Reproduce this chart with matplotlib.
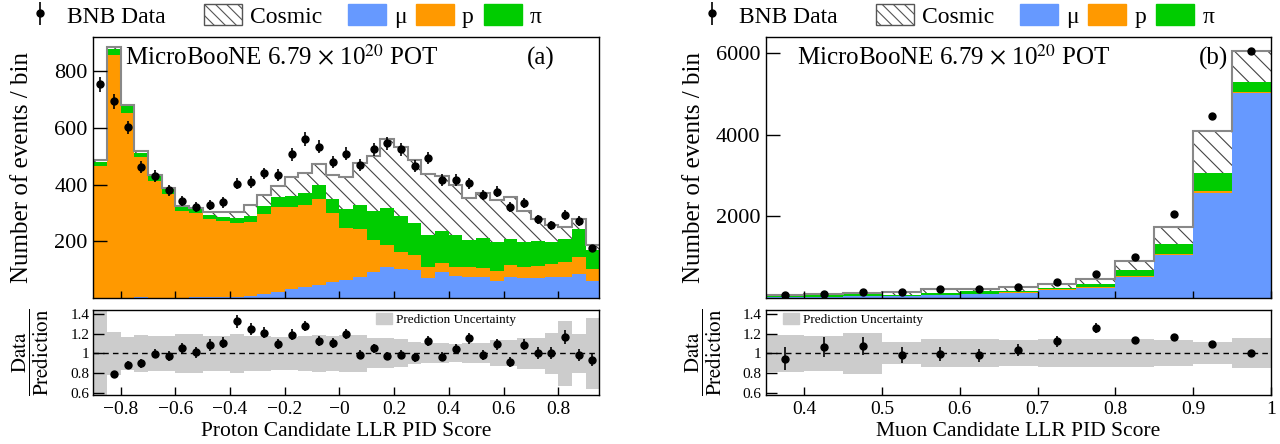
import numpy as np
import matplotlib.pyplot as plt
from matplotlib.patches import Patch
from matplotlib.ticker import FuncFormatter

plt.rcParams['font.family'] = ['Liberation Serif', 'DejaVu Serif']
plt.rcParams['mathtext.fontset'] = 'stix'
plt.rcParams['hatch.linewidth'] = 0.8

# (a) proton candidate LLR PID score, bins of 0.05 from -0.9 to 0.95
p_edges = np.round(np.arange(-0.9, 0.951, 0.05), 3)
p_mu = [0, 0, 1, 2, 1, 1, 1, 2, 2, 3, 4, 8, 14, 22, 31, 38, 46, 58, 63, 75,
        93, 108, 103, 100, 72, 93, 78, 73, 73, 61, 74, 69, 70, 73, 73, 86, 60]
p_p = [466, 855, 652, 494, 412, 365, 306, 299, 276, 269, 259, 261, 281, 300, 289, 290, 303, 243, 185, 168,
       111, 79, 60, 51, 36, 31, 32, 35, 34, 35, 42, 41, 44, 46, 55, 60, 41]
p_pi = [14, 21, 24, 16, 19, 17, 15, 15, 14, 15, 18, 21, 30, 33, 39, 41, 49, 48, 66, 85,
        103, 131, 127, 114, 115, 111, 112, 96, 103, 100, 91, 88, 88, 79, 79, 97, 68]
p_cosmic = [6, 7, 3, 5, 1, 6, 3, 3, 12, 17, 23, 38, 38, 40, 67, 70, 76, 84, 111, 149,
            193, 241, 243, 221, 215, 196, 176, 147, 161, 148, 148, 109, 75, 59, 44, 34, 18]
p_data = [753, 694, 601, 463, 431, 379, 341, 322, 329, 337, 403, 409, 439, 433, 507, 561, 533, 480, 509, 469,
          525, 545, 525, 465, 494, 416, 416, 404, 363, 375, 322, 334, 277, 257, 292, 272, 175]
p_unc = [0.45, 0.22, 0.17, 0.19, 0.18, 0.18, 0.20, 0.20, 0.18, 0.18, 0.20, 0.18, 0.18, 0.17, 0.17, 0.18, 0.19,
         0.18, 0.19, 0.19, 0.15, 0.15, 0.14, 0.11, 0.10, 0.10, 0.09, 0.10, 0.10, 0.13, 0.13, 0.16, 0.16,
         0.21, 0.33, 0.20, 0.36]

# (b) muon candidate LLR PID score, bins of 0.05 from 0.35 to 1
m_edges = np.round(np.arange(0.35, 1.001, 0.05), 3)
m_mu = [20, 29, 45, 45, 69, 102, 126, 205, 240, 526, 1064, 2571, 5016]
m_p = [3, 4, 5, 10, 8, 8, 10, 10, 25, 24, 24, 41, 41]
m_pi = [22, 44, 36, 30, 50, 50, 47, 35, 90, 147, 236, 448, 228]
m_cosmic = [28, 21, 41, 70, 85, 71, 84, 97, 114, 201, 428, 1030, 775]
m_data = [69, 104, 136, 152, 210, 226, 275, 389, 591, 1015, 2050, 4458, 6060]
m_unc = [0.19, 0.18, 0.21, 0.11, 0.14, 0.14, 0.13, 0.14, 0.14, 0.14, 0.13, 0.11, 0.15]

col_mu = '#6699ff'
col_p = '#ff9900'
col_pi = '#00cc00'
col_band = '#cccccc'

W, H = 1280, 444
fig = plt.figure(figsize=(12.8, 4.44), dpi=100)


def px_axes(x0, x1, y0, y1):
    return fig.add_axes([x0 / W, 1 - y1 / H, (x1 - x0) / W, (y1 - y0) / H])


def fmt(v, pos):
    return ('%g' % v).replace('-', '\u2212')


def draw(x0, x1, edges, mu, p, pi, cosmic, data, unc, ymax, yticks, xticks, xlabel, tag, leg_x):
    ax = px_axes(x0, x1, 37, 298)
    axr = px_axes(x0, x1, 310, 394.5)
    edges = np.asarray(edges)
    w = np.diff(edges)
    c = edges[:-1] + w / 2
    data = np.asarray(data, float)

    # stacked prediction
    b = np.zeros(len(c))
    for vals, col in [(mu, col_mu), (p, col_p), (pi, col_pi)]:
        top = b + np.asarray(vals)
        ax.stairs(top, edges, baseline=b, fill=True, color=col, lw=0)
        b = top
    tot = b + np.asarray(cosmic)
    ax.stairs(tot, edges, baseline=b, fill=True, facecolor='white', edgecolor='#444444',
              hatch='\\\\', lw=0)
    ax.stairs(tot, edges, color='#888888', lw=1.5, baseline=None)
    eb = ax.errorbar(c, data, yerr=np.sqrt(data), fmt='o', color='black', ms=5,
                     elinewidth=1.2, capsize=0, zorder=5)

    ax.set_xlim(edges[0], edges[-1])
    ax.set_ylim(0, ymax)
    ax.set_yticks(yticks)
    ax.set_xticks(xticks)
    ax.tick_params(labelbottom=False)
    ax.tick_params(axis='y', direction='in', length=10, width=1, labelsize=16, pad=4)
    ax.tick_params(axis='x', direction='in', length=5, width=1)
    ax.set_ylabel('Number of events / bin', fontsize=18)
    ax.yaxis.set_label_coords(-0.12, 0.5)
    ax.text(0.0625, 0.893, r'MicroBooNE 6.79 $\times$ 10$^{20}$ POT', transform=ax.transAxes,
            fontsize=18, va='baseline')
    ax.text(0.857, 0.893, tag, transform=ax.transAxes, fontsize=18, va='baseline')

    # ratio panel
    axr.stairs(1 + np.asarray(unc), edges, baseline=1 - np.asarray(unc), fill=True,
               color=col_band, lw=0)
    axr.axhline(1, color='black', ls=(0, (4, 3)), lw=1)
    axr.errorbar(c, data / tot, yerr=np.sqrt(data) / tot, fmt='o', color='black', ms=5,
                 elinewidth=1.2, capsize=0, zorder=5)
    axr.set_xlim(edges[0], edges[-1])
    axr.set_ylim(0.58, 1.44)
    axr.set_yticks([0.6, 0.8, 1, 1.2, 1.4])
    axr.set_xticks(xticks)
    axr.xaxis.set_major_formatter(FuncFormatter(fmt))
    axr.yaxis.set_major_formatter(FuncFormatter(fmt))
    axr.tick_params(axis='y', direction='in', length=8, width=1, labelsize=11, pad=3)
    axr.tick_params(axis='x', direction='in', length=6, width=1, labelsize=14, pad=5)
    axr.set_xlabel(xlabel, fontsize=15.5)
    axr.xaxis.set_label_coords(0.5, -0.33)
    axr.set_ylabel(r'$\dfrac{\mathrm{Data}}{\mathrm{Prediction}}$', fontsize=15)
    axr.yaxis.set_label_coords(-0.083, 0.5)
    axr.legend([Patch(color=col_band)], ['Prediction Uncertainty'], loc='upper left',
               bbox_to_anchor=(leg_x, 1.0), frameon=False, fontsize=9.5, handlelength=1.2,
               handleheight=1.0, borderpad=0.1, borderaxespad=0.1, handletextpad=0.3)

    for a in (ax, axr):
        for s in a.spines.values():
            s.set_linewidth(1)

    # legend row above the panel
    off = x0 - 93.4
    items = [(eb, 'BNB Data', 21),
             (Patch(facecolor='white', edgecolor='#555555', hatch='\\\\\\'), 'Cosmic', 204),
             (Patch(color=col_mu), '\u03bc', 348),
             (Patch(color=col_p), 'p', 416),
             (Patch(color=col_pi), '\u03c0', 484)]
    for h, lab, x in items:
        fig.legend([h], [lab], loc='center left', bbox_to_anchor=((x + off) / W, 1 - 16 / H),
                   frameon=False, fontsize=17, handlelength=1.6, handleheight=1.0,
                   handletextpad=0.35, borderpad=0, borderaxespad=0)


draw(93.4, 599.2, p_edges, p_mu, p_p, p_pi, p_cosmic, p_data, p_unc, 920,
     [200, 400, 600, 800], np.round(np.arange(-0.8, 0.81, 0.2), 1),
     'Proton Candidate LLR PID Score', '(a)', 0.553)
draw(765.6, 1270.7, m_edges, m_mu, m_p, m_pi, m_cosmic, m_data, m_unc, 6400,
     [2000, 4000, 6000], np.round(np.arange(0.4, 1.01, 0.1), 1),
     'Muon Candidate LLR PID Score', '(b)', 0.03)

fig.savefig('out.png', dpi=100)
